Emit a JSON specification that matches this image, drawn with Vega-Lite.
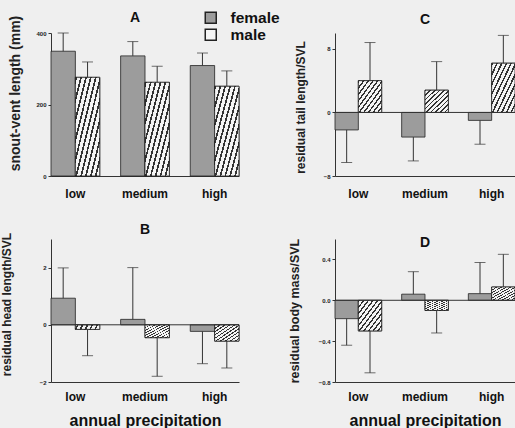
{
  "$schema": "https://vega.github.io/schema/vega-lite/v6.json",
  "background": "#efefef",
  "padding": {"left": 0, "top": 10, "right": 0, "bottom": 0},
  "autosize": {"type": "pad"},
  "data": {"values": [
    {"panel": "A", "precip": "low", "sex": "female", "value": 349, "err": 400},
    {"panel": "A", "precip": "low", "sex": "male", "value": 276, "err": 319},
    {"panel": "A", "precip": "medium", "sex": "female", "value": 336, "err": 376},
    {"panel": "A", "precip": "medium", "sex": "male", "value": 262, "err": 307},
    {"panel": "A", "precip": "high", "sex": "female", "value": 309, "err": 344},
    {"panel": "A", "precip": "high", "sex": "male", "value": 251, "err": 294},
    {"panel": "C", "precip": "low", "sex": "female", "value": -2.2, "err": -6.3},
    {"panel": "C", "precip": "low", "sex": "male", "value": 4.0, "err": 8.8},
    {"panel": "C", "precip": "medium", "sex": "female", "value": -3.1, "err": -6.1},
    {"panel": "C", "precip": "medium", "sex": "male", "value": 2.8, "err": 6.4},
    {"panel": "C", "precip": "high", "sex": "female", "value": -1.0, "err": -4.0},
    {"panel": "C", "precip": "high", "sex": "male", "value": 6.2, "err": 9.7},
    {"panel": "B", "precip": "low", "sex": "female", "value": 0.93, "err": 1.99},
    {"panel": "B", "precip": "low", "sex": "male", "value": -0.16, "err": -1.08},
    {"panel": "B", "precip": "medium", "sex": "female", "value": 0.19, "err": 2.0},
    {"panel": "B", "precip": "medium", "sex": "male", "value": -0.45, "err": -1.8},
    {"panel": "B", "precip": "high", "sex": "female", "value": -0.23, "err": -1.36},
    {"panel": "B", "precip": "high", "sex": "male", "value": -0.57, "err": -1.51},
    {"panel": "D", "precip": "low", "sex": "female", "value": -0.18, "err": -0.44},
    {"panel": "D", "precip": "low", "sex": "male", "value": -0.30, "err": -0.71},
    {"panel": "D", "precip": "medium", "sex": "female", "value": 0.06, "err": 0.28},
    {"panel": "D", "precip": "medium", "sex": "male", "value": -0.10, "err": -0.32},
    {"panel": "D", "precip": "high", "sex": "female", "value": 0.065, "err": 0.37},
    {"panel": "D", "precip": "high", "sex": "male", "value": 0.13, "err": 0.45}
  ]},
  "columns": 2,
  "spacing": {"row": 63, "column": 96},
  "bounds": "flush",
  "resolve": {
    "scale": {"x": "independent", "y": "independent", "color": "independent", "xOffset": "independent"},
    "legend": {"color": "independent"},
    "axis": {"x": "independent", "y": "independent"}
  },
  "concat": [
    {
      "transform": [{"filter": "datum.panel === 'A'"}],
      "width": 188, "height": 143,
      "title": {"text": "A", "dx": -10, "offset": -15},
      "layer": [
        {
          "mark": {"type": "bar", "stroke": "#222", "strokeWidth": 0.8},
          "encoding": {
            "x": {"field": "precip", "type": "nominal", "sort": ["low", "medium", "high"], "scale": {"paddingInner": 0.3, "paddingOuter": 0}, "axis": {"title": null, "labelPadding": 12}},
            "xOffset": {"field": "sex", "sort": ["female", "male"]},
            "y": {"field": "value", "type": "quantitative", "scale": {"domain": [0, 400], "nice": false}, "axis": {"values": [0, 100, 200, 300, 400], "labelOverlap": false, "title": "snout-vent length (mm)", "titleFontSize": 14, "titlePadding": 13, "titleY": 60}},
            "color": {"field": "sex", "type": "nominal", "scale": {"domain": ["female", "male"], "range": ["#9c9c9c", "#f5f5f5"]},
              "legend": {"orient": "none", "legendX": 152, "legendY": -23, "padding": 0, "title": null, "labelFont": "Liberation Sans", "labelFontSize": 15.5, "labelFontWeight": "bold", "labelColor": "#111", "symbolType": "square", "symbolSize": 121, "rowPadding": -3, "labelOffset": 12,
                "encode": {"symbols": {
                  "fill": {"condition": {"test": "datum.value === 'male'", "value": {"gradient": "linear", "x1": 0, "y1": 0, "x2": 1, "y2": 1, "stops": [{"offset": 0, "color": "#333"}, {"offset": 0.07, "color": "#333"}, {"offset": 0.07, "color": "#f5f5f5"}, {"offset": 0.2, "color": "#f5f5f5"}, {"offset": 0.2, "color": "#333"}, {"offset": 0.27, "color": "#333"}, {"offset": 0.27, "color": "#f5f5f5"}, {"offset": 0.4, "color": "#f5f5f5"}, {"offset": 0.4, "color": "#333"}, {"offset": 0.47, "color": "#333"}, {"offset": 0.47, "color": "#f5f5f5"}, {"offset": 0.6, "color": "#f5f5f5"}, {"offset": 0.6, "color": "#333"}, {"offset": 0.67, "color": "#333"}, {"offset": 0.67, "color": "#f5f5f5"}, {"offset": 0.8, "color": "#f5f5f5"}, {"offset": 0.8, "color": "#333"}, {"offset": 0.87, "color": "#333"}, {"offset": 0.87, "color": "#f5f5f5"}, {"offset": 1, "color": "#f5f5f5"}]}}, "value": "#9c9c9c"}
                }}}}
          }
        },
        {
          "transform": [{"filter": "datum.sex === 'male'"}],
          "mark": {"type": "bar", "stroke": "#222", "strokeWidth": 0.8, "fill": {"gradient": "linear", "x1": 0, "y1": 0, "x2": 1, "y2": 1, "stops": [
              {"offset": 0, "color": "#333"}, {"offset": 0.035, "color": "#333"}, {"offset": 0.035, "color": "#f5f5f5"}, {"offset": 0.1, "color": "#f5f5f5"},
              {"offset": 0.1, "color": "#333"}, {"offset": 0.135, "color": "#333"}, {"offset": 0.135, "color": "#f5f5f5"}, {"offset": 0.2, "color": "#f5f5f5"},
              {"offset": 0.2, "color": "#333"}, {"offset": 0.235, "color": "#333"}, {"offset": 0.235, "color": "#f5f5f5"}, {"offset": 0.3, "color": "#f5f5f5"},
              {"offset": 0.3, "color": "#333"}, {"offset": 0.335, "color": "#333"}, {"offset": 0.335, "color": "#f5f5f5"}, {"offset": 0.4, "color": "#f5f5f5"},
              {"offset": 0.4, "color": "#333"}, {"offset": 0.435, "color": "#333"}, {"offset": 0.435, "color": "#f5f5f5"}, {"offset": 0.5, "color": "#f5f5f5"},
              {"offset": 0.5, "color": "#333"}, {"offset": 0.535, "color": "#333"}, {"offset": 0.535, "color": "#f5f5f5"}, {"offset": 0.6, "color": "#f5f5f5"},
              {"offset": 0.6, "color": "#333"}, {"offset": 0.635, "color": "#333"}, {"offset": 0.635, "color": "#f5f5f5"}, {"offset": 0.7, "color": "#f5f5f5"},
              {"offset": 0.7, "color": "#333"}, {"offset": 0.735, "color": "#333"}, {"offset": 0.735, "color": "#f5f5f5"}, {"offset": 0.8, "color": "#f5f5f5"},
              {"offset": 0.8, "color": "#333"}, {"offset": 0.835, "color": "#333"}, {"offset": 0.835, "color": "#f5f5f5"}, {"offset": 0.9, "color": "#f5f5f5"},
              {"offset": 0.9, "color": "#333"}, {"offset": 0.935, "color": "#333"}, {"offset": 0.935, "color": "#f5f5f5"}, {"offset": 1, "color": "#f5f5f5"}
            ]}},
          "encoding": {
            "x": {"field": "precip", "type": "nominal", "sort": ["low", "medium", "high"]},
            "xOffset": {"field": "sex", "sort": ["female", "male"]},
            "y": {"field": "value", "type": "quantitative"}
          }
        },
        {
          "mark": {"type": "rule", "color": "#333", "strokeWidth": 1},
          "encoding": {
            "x": {"field": "precip", "type": "nominal", "sort": ["low", "medium", "high"]},
            "xOffset": {"field": "sex", "sort": ["female", "male"]},
            "y": {"field": "value", "type": "quantitative"},
            "y2": {"field": "err"}
          }
        },
        {
          "mark": {"type": "tick", "color": "#333", "thickness": 1, "size": 11, "orient": "horizontal"},
          "encoding": {
            "x": {"field": "precip", "type": "nominal", "sort": ["low", "medium", "high"]},
            "xOffset": {"field": "sex", "sort": ["female", "male"]},
            "y": {"field": "err", "type": "quantitative"}
          }
        }
      ]
    },
    {
      "transform": [{"filter": "datum.panel === 'C'"}],
      "width": 180, "height": 143,
      "title": {"text": "C", "offset": 6},
      "layer": [
        {
          "mark": {"type": "bar", "stroke": "#222", "strokeWidth": 0.8, "color": "#9c9c9c"},
          "encoding": {
            "x": {"field": "precip", "type": "nominal", "sort": ["low", "medium", "high"], "scale": {"paddingInner": 0.3, "paddingOuter": 0}, "axis": {"title": null, "labelPadding": 12}},
            "xOffset": {"field": "sex", "sort": ["female", "male"]},
            "y": {"field": "value", "type": "quantitative", "scale": {"domain": [-8, 10], "nice": false}, "axis": {"values": [-8, -6, -4, -2, 0, 2, 4, 6, 8, 10], "labelOverlap": false, "title": "residual tail length/SVL", "titleFontSize": 12, "titlePadding": 16, "titleY": 74}}
          }
        },
        {
          "transform": [{"filter": "datum.sex === 'male'"}],
          "mark": {"type": "bar", "stroke": "#222", "strokeWidth": 0.8, "fill": {"gradient": "linear", "x1": 0, "y1": 0, "x2": 1, "y2": 1, "stops": [
              {"offset": 0, "color": "#333"}, {"offset": 0.035, "color": "#333"}, {"offset": 0.035, "color": "#f5f5f5"}, {"offset": 0.1, "color": "#f5f5f5"},
              {"offset": 0.1, "color": "#333"}, {"offset": 0.135, "color": "#333"}, {"offset": 0.135, "color": "#f5f5f5"}, {"offset": 0.2, "color": "#f5f5f5"},
              {"offset": 0.2, "color": "#333"}, {"offset": 0.235, "color": "#333"}, {"offset": 0.235, "color": "#f5f5f5"}, {"offset": 0.3, "color": "#f5f5f5"},
              {"offset": 0.3, "color": "#333"}, {"offset": 0.335, "color": "#333"}, {"offset": 0.335, "color": "#f5f5f5"}, {"offset": 0.4, "color": "#f5f5f5"},
              {"offset": 0.4, "color": "#333"}, {"offset": 0.435, "color": "#333"}, {"offset": 0.435, "color": "#f5f5f5"}, {"offset": 0.5, "color": "#f5f5f5"},
              {"offset": 0.5, "color": "#333"}, {"offset": 0.535, "color": "#333"}, {"offset": 0.535, "color": "#f5f5f5"}, {"offset": 0.6, "color": "#f5f5f5"},
              {"offset": 0.6, "color": "#333"}, {"offset": 0.635, "color": "#333"}, {"offset": 0.635, "color": "#f5f5f5"}, {"offset": 0.7, "color": "#f5f5f5"},
              {"offset": 0.7, "color": "#333"}, {"offset": 0.735, "color": "#333"}, {"offset": 0.735, "color": "#f5f5f5"}, {"offset": 0.8, "color": "#f5f5f5"},
              {"offset": 0.8, "color": "#333"}, {"offset": 0.835, "color": "#333"}, {"offset": 0.835, "color": "#f5f5f5"}, {"offset": 0.9, "color": "#f5f5f5"},
              {"offset": 0.9, "color": "#333"}, {"offset": 0.935, "color": "#333"}, {"offset": 0.935, "color": "#f5f5f5"}, {"offset": 1, "color": "#f5f5f5"}
            ]}},
          "encoding": {
            "x": {"field": "precip", "type": "nominal", "sort": ["low", "medium", "high"]},
            "xOffset": {"field": "sex", "sort": ["female", "male"]},
            "y": {"field": "value", "type": "quantitative"}
          }
        },
        {
          "mark": {"type": "rule", "color": "#333", "strokeWidth": 1},
          "encoding": {
            "x": {"field": "precip", "type": "nominal", "sort": ["low", "medium", "high"]},
            "xOffset": {"field": "sex", "sort": ["female", "male"]},
            "y": {"field": "value", "type": "quantitative"},
            "y2": {"field": "err"}
          }
        },
        {
          "mark": {"type": "tick", "color": "#333", "thickness": 1, "size": 11, "orient": "horizontal"},
          "encoding": {
            "x": {"field": "precip", "type": "nominal", "sort": ["low", "medium", "high"]},
            "xOffset": {"field": "sex", "sort": ["female", "male"]},
            "y": {"field": "err", "type": "quantitative"}
          }
        },
        {
          "data": {"values": [{"zero": 0}]},
          "mark": {"type": "rule", "color": "#333", "strokeWidth": 1},
          "encoding": {"y": {"field": "zero", "type": "quantitative"}}
        }
      ]
    },
    {
      "transform": [{"filter": "datum.panel === 'B'"}],
      "width": 188, "height": 143,
      "title": {"text": "B", "offset": -5},
      "layer": [
        {
          "mark": {"type": "bar", "stroke": "#222", "strokeWidth": 0.8, "color": "#9c9c9c"},
          "encoding": {
            "x": {"field": "precip", "type": "nominal", "sort": ["low", "medium", "high"], "scale": {"paddingInner": 0.3, "paddingOuter": 0}, "axis": {"title": "annual precipitation", "labelPadding": 9}},
            "xOffset": {"field": "sex", "sort": ["female", "male"]},
            "y": {"field": "value", "type": "quantitative", "scale": {"domain": [-2, 3], "nice": false}, "axis": {"values": [-2, -1, 0, 1, 2, 3], "labelOverlap": false, "title": "residual head length/SVL", "titleFontSize": 12, "titlePadding": 26, "titleY": 65}}
          }
        },
        {
          "transform": [{"filter": "datum.sex === 'male'"}],
          "mark": {"type": "bar", "stroke": "#222", "strokeWidth": 0.8, "fill": {"gradient": "linear", "x1": 0, "y1": 0, "x2": 1, "y2": 1, "stops": [
              {"offset": 0, "color": "#333"}, {"offset": 0.035, "color": "#333"}, {"offset": 0.035, "color": "#f5f5f5"}, {"offset": 0.1, "color": "#f5f5f5"},
              {"offset": 0.1, "color": "#333"}, {"offset": 0.135, "color": "#333"}, {"offset": 0.135, "color": "#f5f5f5"}, {"offset": 0.2, "color": "#f5f5f5"},
              {"offset": 0.2, "color": "#333"}, {"offset": 0.235, "color": "#333"}, {"offset": 0.235, "color": "#f5f5f5"}, {"offset": 0.3, "color": "#f5f5f5"},
              {"offset": 0.3, "color": "#333"}, {"offset": 0.335, "color": "#333"}, {"offset": 0.335, "color": "#f5f5f5"}, {"offset": 0.4, "color": "#f5f5f5"},
              {"offset": 0.4, "color": "#333"}, {"offset": 0.435, "color": "#333"}, {"offset": 0.435, "color": "#f5f5f5"}, {"offset": 0.5, "color": "#f5f5f5"},
              {"offset": 0.5, "color": "#333"}, {"offset": 0.535, "color": "#333"}, {"offset": 0.535, "color": "#f5f5f5"}, {"offset": 0.6, "color": "#f5f5f5"},
              {"offset": 0.6, "color": "#333"}, {"offset": 0.635, "color": "#333"}, {"offset": 0.635, "color": "#f5f5f5"}, {"offset": 0.7, "color": "#f5f5f5"},
              {"offset": 0.7, "color": "#333"}, {"offset": 0.735, "color": "#333"}, {"offset": 0.735, "color": "#f5f5f5"}, {"offset": 0.8, "color": "#f5f5f5"},
              {"offset": 0.8, "color": "#333"}, {"offset": 0.835, "color": "#333"}, {"offset": 0.835, "color": "#f5f5f5"}, {"offset": 0.9, "color": "#f5f5f5"},
              {"offset": 0.9, "color": "#333"}, {"offset": 0.935, "color": "#333"}, {"offset": 0.935, "color": "#f5f5f5"}, {"offset": 1, "color": "#f5f5f5"}
            ]}},
          "encoding": {
            "x": {"field": "precip", "type": "nominal", "sort": ["low", "medium", "high"]},
            "xOffset": {"field": "sex", "sort": ["female", "male"]},
            "y": {"field": "value", "type": "quantitative"}
          }
        },
        {
          "mark": {"type": "rule", "color": "#333", "strokeWidth": 1},
          "encoding": {
            "x": {"field": "precip", "type": "nominal", "sort": ["low", "medium", "high"]},
            "xOffset": {"field": "sex", "sort": ["female", "male"]},
            "y": {"field": "value", "type": "quantitative"},
            "y2": {"field": "err"}
          }
        },
        {
          "mark": {"type": "tick", "color": "#333", "thickness": 1, "size": 11, "orient": "horizontal"},
          "encoding": {
            "x": {"field": "precip", "type": "nominal", "sort": ["low", "medium", "high"]},
            "xOffset": {"field": "sex", "sort": ["female", "male"]},
            "y": {"field": "err", "type": "quantitative"}
          }
        },
        {
          "data": {"values": [{"zero": 0}]},
          "mark": {"type": "rule", "color": "#333", "strokeWidth": 1},
          "encoding": {"y": {"field": "zero", "type": "quantitative"}}
        }
      ]
    },
    {
      "transform": [{"filter": "datum.panel === 'D'"}],
      "width": 180, "height": 143,
      "title": {"text": "D", "offset": -12},
      "layer": [
        {
          "mark": {"type": "bar", "stroke": "#222", "strokeWidth": 0.8, "color": "#9c9c9c"},
          "encoding": {
            "x": {"field": "precip", "type": "nominal", "sort": ["low", "medium", "high"], "scale": {"paddingInner": 0.3, "paddingOuter": 0}, "axis": {"title": "annual precipitation", "labelPadding": 9}},
            "xOffset": {"field": "sex", "sort": ["female", "male"]},
            "y": {"field": "value", "type": "quantitative", "scale": {"domain": [-0.8, 0.6], "nice": false}, "axis": {"values": [-0.8, -0.6, -0.4, -0.2, 0, 0.2, 0.4, 0.6], "labelOverlap": false, "format": ".1f", "title": "residual body mass/SVL", "titleFontSize": 12.5, "titlePadding": 17}}
          }
        },
        {
          "transform": [{"filter": "datum.sex === 'male'"}],
          "mark": {"type": "bar", "stroke": "#222", "strokeWidth": 0.8, "fill": {"gradient": "linear", "x1": 0, "y1": 0, "x2": 1, "y2": 1, "stops": [
              {"offset": 0, "color": "#333"}, {"offset": 0.035, "color": "#333"}, {"offset": 0.035, "color": "#f5f5f5"}, {"offset": 0.1, "color": "#f5f5f5"},
              {"offset": 0.1, "color": "#333"}, {"offset": 0.135, "color": "#333"}, {"offset": 0.135, "color": "#f5f5f5"}, {"offset": 0.2, "color": "#f5f5f5"},
              {"offset": 0.2, "color": "#333"}, {"offset": 0.235, "color": "#333"}, {"offset": 0.235, "color": "#f5f5f5"}, {"offset": 0.3, "color": "#f5f5f5"},
              {"offset": 0.3, "color": "#333"}, {"offset": 0.335, "color": "#333"}, {"offset": 0.335, "color": "#f5f5f5"}, {"offset": 0.4, "color": "#f5f5f5"},
              {"offset": 0.4, "color": "#333"}, {"offset": 0.435, "color": "#333"}, {"offset": 0.435, "color": "#f5f5f5"}, {"offset": 0.5, "color": "#f5f5f5"},
              {"offset": 0.5, "color": "#333"}, {"offset": 0.535, "color": "#333"}, {"offset": 0.535, "color": "#f5f5f5"}, {"offset": 0.6, "color": "#f5f5f5"},
              {"offset": 0.6, "color": "#333"}, {"offset": 0.635, "color": "#333"}, {"offset": 0.635, "color": "#f5f5f5"}, {"offset": 0.7, "color": "#f5f5f5"},
              {"offset": 0.7, "color": "#333"}, {"offset": 0.735, "color": "#333"}, {"offset": 0.735, "color": "#f5f5f5"}, {"offset": 0.8, "color": "#f5f5f5"},
              {"offset": 0.8, "color": "#333"}, {"offset": 0.835, "color": "#333"}, {"offset": 0.835, "color": "#f5f5f5"}, {"offset": 0.9, "color": "#f5f5f5"},
              {"offset": 0.9, "color": "#333"}, {"offset": 0.935, "color": "#333"}, {"offset": 0.935, "color": "#f5f5f5"}, {"offset": 1, "color": "#f5f5f5"}
            ]}},
          "encoding": {
            "x": {"field": "precip", "type": "nominal", "sort": ["low", "medium", "high"]},
            "xOffset": {"field": "sex", "sort": ["female", "male"]},
            "y": {"field": "value", "type": "quantitative"}
          }
        },
        {
          "mark": {"type": "rule", "color": "#333", "strokeWidth": 1},
          "encoding": {
            "x": {"field": "precip", "type": "nominal", "sort": ["low", "medium", "high"]},
            "xOffset": {"field": "sex", "sort": ["female", "male"]},
            "y": {"field": "value", "type": "quantitative"},
            "y2": {"field": "err"}
          }
        },
        {
          "mark": {"type": "tick", "color": "#333", "thickness": 1, "size": 11, "orient": "horizontal"},
          "encoding": {
            "x": {"field": "precip", "type": "nominal", "sort": ["low", "medium", "high"]},
            "xOffset": {"field": "sex", "sort": ["female", "male"]},
            "y": {"field": "err", "type": "quantitative"}
          }
        },
        {
          "data": {"values": [{"zero": 0}]},
          "mark": {"type": "rule", "color": "#333", "strokeWidth": 1},
          "encoding": {"y": {"field": "zero", "type": "quantitative"}}
        }
      ]
    }
  ],
  "config": {
    "font": "Liberation Sans",
    "view": {"stroke": null},
    "title": {"font": "Liberation Sans", "fontSize": 14, "fontWeight": "bold", "color": "#111", "anchor": "middle", "frame": "group"},
    "axis": {
      "grid": false,
      "domainColor": "#333",
      "tickColor": "#333",
      "labelFont": "Liberation Sans",
      "labelFontWeight": "bold",
      "labelColor": "#222",
      "titleFont": "Liberation Sans",
      "titleFontWeight": "bold",
      "titleColor": "#222",
      "labelFlush": false,
      "labelOverlap": false
    },
    "axisX": {"ticks": false, "labelAngle": 0, "labelFontSize": 12, "titleFontSize": 16, "titlePadding": 10, "labelColor": "#111", "titleColor": "#111", "domainWidth": 1.2},
    "axisY": {"labelFontSize": 6, "tickSize": 3, "labelPadding": 2, "domainWidth": 1, "labelOverlap": false},
    "axisQuantitative": {"labelOverlap": false}
  }
}
